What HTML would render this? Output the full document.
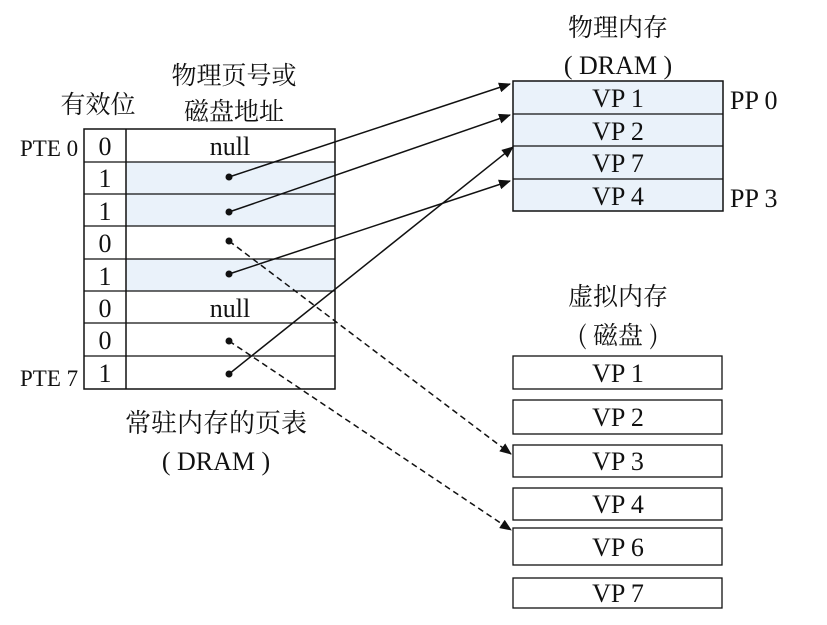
<!DOCTYPE html>
<html><head><meta charset="utf-8"><style>
html,body{margin:0;padding:0;background:#fff}
svg text{font-family:"Liberation Serif","Noto Serif CJK SC","Noto Sans CJK SC",serif;fill:#111}
.c{font-family:"Noto Serif CJK SC","Noto Sans CJK SC",serif}
</style></head><body>
<svg width="827" height="620" viewBox="0 0 827 620" xmlns="http://www.w3.org/2000/svg">
<defs>
<marker id="a" markerWidth="12" markerHeight="10" refX="11" refY="5" orient="auto" markerUnits="userSpaceOnUse">
<path d="M0,0 L12,5 L0,10 z" fill="#111"/></marker>
</defs>
<rect width="827" height="620" fill="#fff"/>
<text class="c" x="234" y="84" font-size="25" text-anchor="middle">物理页号或</text>
<text class="c" x="234" y="120" font-size="25" text-anchor="middle">磁盘地址</text>
<text class="c" x="98" y="113" font-size="25" text-anchor="middle">有效位</text>
<text x="20" y="156" font-size="23">PTE 0</text>
<text x="20" y="386" font-size="23">PTE 7</text>
<text class="c" x="216" y="432" font-size="26" text-anchor="middle">常驻内存的页表</text>
<text x="216" y="470" font-size="26" text-anchor="middle">( DRAM )</text>
<text class="c" x="618" y="36" font-size="25" text-anchor="middle">物理内存</text>
<text x="618" y="74" font-size="26" text-anchor="middle">( DRAM )</text>
<text x="730" y="109" font-size="26">PP 0</text>
<text x="730" y="207" font-size="26">PP 3</text>
<text class="c" x="618" y="305" font-size="25" text-anchor="middle">虚拟内存</text>
<text class="c" x="618" y="344" font-size="25" text-anchor="middle">( 磁盘 )</text>
<g>
<rect x="126" y="162" width="209" height="64" fill="#eaf2fa"/>
<rect x="126" y="259" width="209" height="32" fill="#eaf2fa"/>
<rect x="84" y="129" width="251" height="260" fill="none" stroke="#111" stroke-width="1.5"/>
<line x1="126" y1="129" x2="126" y2="389" stroke="#111" stroke-width="1.5"/>
<g stroke="#111" stroke-width="1.2">
<line x1="84" y1="162" x2="335" y2="162"/><line x1="84" y1="194" x2="335" y2="194"/>
<line x1="84" y1="226" x2="335" y2="226"/><line x1="84" y1="259" x2="335" y2="259"/>
<line x1="84" y1="291" x2="335" y2="291"/><line x1="84" y1="323" x2="335" y2="323"/>
<line x1="84" y1="356" x2="335" y2="356"/>
</g>
<g font-size="26" text-anchor="middle">
<text x="105" y="155">0</text><text x="105" y="187">1</text><text x="105" y="220">1</text>
<text x="105" y="252">0</text><text x="105" y="285">1</text><text x="105" y="317">0</text>
<text x="105" y="349">0</text><text x="105" y="382">1</text>
<text x="230" y="155">null</text><text x="230" y="317">null</text>
</g>
<g fill="#111">
<circle cx="229" cy="177" r="3.5"/><circle cx="229" cy="212" r="3.5"/><circle cx="229" cy="241" r="3.5"/>
<circle cx="229" cy="274" r="3.5"/><circle cx="229" cy="341" r="3.5"/><circle cx="229" cy="374" r="3.5"/>
</g>
</g>
<rect x="513" y="81" width="210" height="130" fill="#eaf2fa" stroke="#111" stroke-width="1.5"/>
<g stroke="#111" stroke-width="1.2">
<line x1="513" y1="114" x2="723" y2="114"/><line x1="513" y1="146" x2="723" y2="146"/><line x1="513" y1="179" x2="723" y2="179"/>
</g>
<g font-size="26" text-anchor="middle">
<text x="618" y="107">VP 1</text><text x="618" y="140">VP 2</text><text x="618" y="172">VP 7</text><text x="618" y="205">VP 4</text>
</g>
<g fill="#fff" stroke="#111" stroke-width="1.3">
<rect x="513" y="356" width="209" height="33"/><rect x="513" y="400" width="209" height="34"/>
<rect x="513" y="445" width="209" height="32"/><rect x="513" y="488" width="209" height="32"/>
<rect x="513" y="528" width="209" height="37"/><rect x="513" y="578" width="209" height="30"/>
</g>
<g font-size="26" text-anchor="middle">
<text x="618" y="382">VP 1</text><text x="618" y="426">VP 2</text><text x="618" y="470">VP 3</text>
<text x="618" y="513">VP 4</text><text x="618" y="556">VP 6</text><text x="618" y="602">VP 7</text>
</g>
<g stroke="#111" stroke-width="1.5" fill="none">
<line x1="229" y1="177" x2="510" y2="84" marker-end="url(#a)"/>
<line x1="229" y1="212" x2="510" y2="115" marker-end="url(#a)"/>
<line x1="229" y1="274" x2="510" y2="181" marker-end="url(#a)"/>
<line x1="229" y1="374" x2="513" y2="147" marker-end="url(#a)"/>
<line x1="229" y1="241" x2="511" y2="454" stroke-dasharray="6,4" marker-end="url(#a)"/>
<line x1="229" y1="341" x2="511" y2="530" stroke-dasharray="6,4" marker-end="url(#a)"/>
</g>
</svg>
</body></html>
